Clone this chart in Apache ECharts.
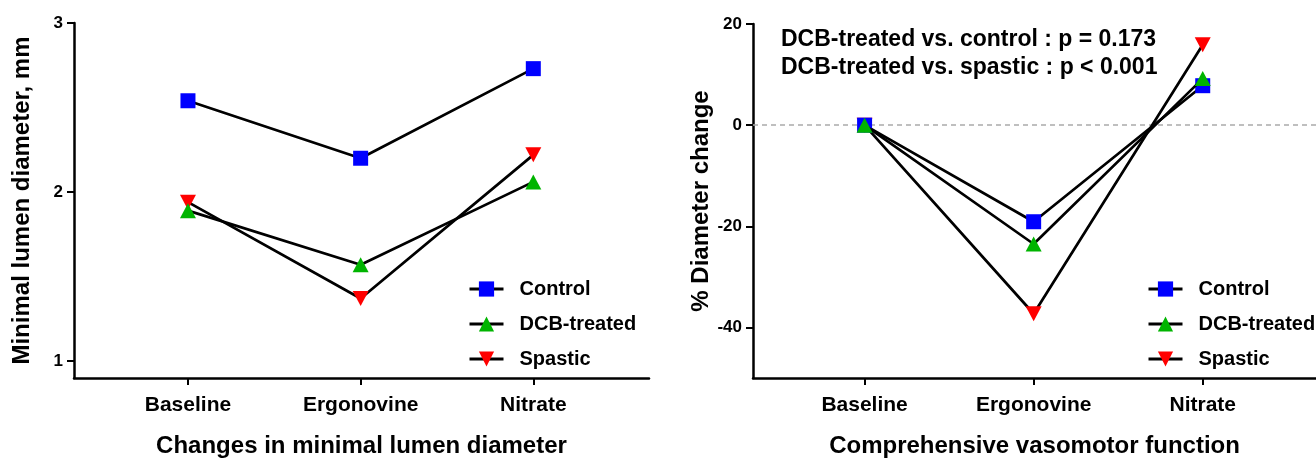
<!DOCTYPE html>
<html>
<head>
<meta charset="utf-8">
<script src="https://cdn.jsdelivr.net/npm/echarts@6/dist/echarts.min.js"></script>
<style>
html,body{margin:0;padding:0;background:#fff;}
#chart{width:1316px;height:463px;}
</style>
</head>
<body>
<div id="chart"></div>
<script>
// ---- data ----
const categories = ['Baseline', 'Ergonovine', 'Nitrate'];
const seriesNames = ['Control', 'DCB-treated', 'Spastic'];
// Left panel: minimal lumen diameter, mm
const mldControl = [2.54, 2.20, 2.73];
const mldDCB = [1.89, 1.57, 2.06];
const mldSpastic = [1.94, 1.37, 2.22];
// Right panel: % diameter change
const pctControl = [0, -19.1, 7.8];
const pctDCB = [0, -23.5, 9.2];
const pctSpastic = [0, -37.3, 15.9];
const leftYTicks = [1, 2, 3];
const rightYTicks = [-40, -20, 0, 20];
const pText1 = 'DCB-treated vs. control : p = 0.173';
const pText2 = 'DCB-treated vs. spastic : p < 0.001';

const FONT = 'Liberation Sans, Arial, sans-serif';
const colors = ['#0000ff', '#00b400', '#ff0000'];
const symbols = ['rect', 'triangle', 'path://M0,0 L10,0 L5,9 Z'];
const symSizes = [15, [16, 15], [16, 15]];
const zOrder = [4, 5, 3];

function pairs(vals) { return vals.map((v, i) => [i, v]); }

function makeSeries(valsArr, axisIdx) {
  return valsArr.map((vals, k) => ({
    name: seriesNames[k],
    type: 'line',
    xAxisIndex: axisIdx, yAxisIndex: axisIdx,
    data: pairs(vals),
    symbol: symbols[k],
    symbolSize: symSizes[k],
    showAllSymbol: true,
    lineStyle: { color: '#000', width: 2.7 },
    itemStyle: { color: colors[k], borderWidth: 0 },
    z: zOrder[k],
    animation: false
  }));
}

const xAxisBase = (gi, name) => ({
  type: 'value', gridIndex: gi, min: -0.66, max: 2.67,
  name: name, nameLocation: 'middle', nameGap: 56,
  nameTextStyle: { fontFamily: FONT, fontWeight: 'bold', fontSize: 24, color: '#000' },
  axisLine: { show: true, onZero: false, lineStyle: { color: '#000', width: 2.5 } },
  axisTick: { show: true, customValues: [0, 1, 2], length: 7, lineStyle: { color: '#000', width: 2 } },
  axisLabel: { show: true, customValues: [0, 1, 2], margin: 17,
    formatter: v => categories[Math.round(v)],
    fontFamily: FONT, fontWeight: 'bold', fontSize: 21, color: '#000' },
  splitLine: { show: false }
});

const yAxisBase = (gi, min, max, ticks, name, gap) => ({
  type: 'value', gridIndex: gi, min: min, max: max,
  name: name, nameLocation: 'middle', nameGap: gap,
  nameTextStyle: { fontFamily: FONT, fontWeight: 'bold', fontSize: 24, color: '#000' },
  axisLine: { show: true, onZero: false, lineStyle: { color: '#000', width: 2.5 } },
  axisTick: { show: true, customValues: ticks, length: 7, lineStyle: { color: '#000', width: 2 } },
  axisLabel: { show: true, customValues: ticks, margin: 11,
    fontFamily: FONT, fontWeight: 'bold', fontSize: 17, color: '#000' },
  splitLine: { show: false }
});

const rightSeries = makeSeries([pctControl, pctDCB, pctSpastic], 1);
rightSeries[0].markLine = {
  silent: true, symbol: 'none', label: { show: false },
  lineStyle: { color: '#aaaaaa', type: [5, 4], width: 1.5 },
  data: [{ yAxis: 0 }], animation: false, z: 1
};

const legendBase = (left) => ({
  data: seriesNames,
  orient: 'vertical', left: left, top: 279, padding: 0,
  itemWidth: 34, itemHeight: 19, itemGap: 15,
  selectedMode: false,
  lineStyle: { width: 3 },
  textStyle: { fontFamily: FONT, fontWeight: 'bold', fontSize: 20, color: '#000', padding: [0, 0, 0, 11] }
});

const option = {
  backgroundColor: '#fff',
  animation: false,
  grid: [
    { left: 74, top: 23, width: 575, bottom: 81, containLabel: false },
    { left: 753, top: 24, width: 577, bottom: 81, containLabel: false }
  ],
  xAxis: [
    xAxisBase(0, 'Changes in minimal lumen diameter'),
    xAxisBase(1, 'Comprehensive vasomotor function')
  ],
  yAxis: [
    yAxisBase(0, 0.9, 3, leftYTicks, 'Minimal lumen diameter, mm', 40),
    yAxisBase(1, -50, 20, rightYTicks, '% Diameter change', 38)
  ],
  legend: [legendBase(468), legendBase(1147)],
  title: [
    { text: pText1 + '\n' + pText2, left: 781, top: 26, padding: 0,
      textStyle: { fontFamily: FONT, fontWeight: 'bold', fontSize: 23, color: '#000', lineHeight: 28 } }
  ],
  series: [
    ...makeSeries([mldControl, mldDCB, mldSpastic], 0),
    ...rightSeries
  ]
};

const chart = echarts.init(document.getElementById('chart'), null, { renderer: 'canvas' });
chart.setOption(option);
</script>
</body>
</html>
